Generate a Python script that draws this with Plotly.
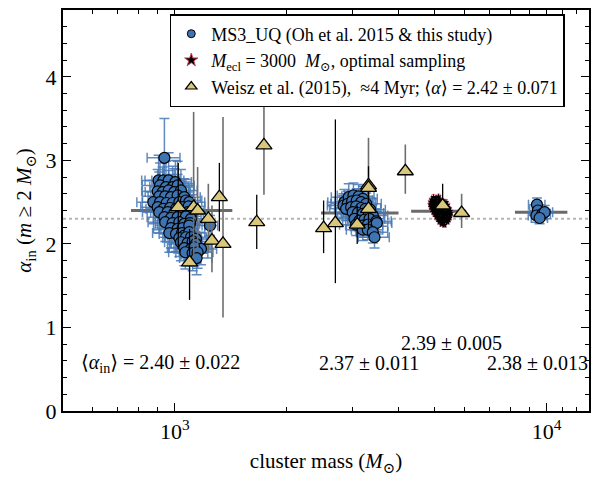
import math
import plotly.graph_objects as go

FONT = "Liberation Serif, DejaVu Serif, serif"

# ---------------- MS3_UQ (Oh et al. 2015 & this study) ----------------
c1_mass = [937,
           904, 931, 962, 1003,
           912, 946, 986, 1017,
           899, 927, 962, 996, 1038,
           908, 942, 976, 1017, 1060,
           875, 912, 950, 986, 1028, 1071, 1093,
           899, 931, 970, 1007, 1049, 1089,
           908, 956, 996, 1038, 1082, 1116,
           937, 976, 1017, 1071, 1105,
           942, 986, 1028, 1060, 1098,
           976, 1017, 1049, 1093,
           966, 1007, 1045, 1060, 1093,
           1028, 1071, 1105, 1139,
           1038, 1082, 1116, 1139, 1175,
           1060, 1105, 1128,
           1067, 1116, 1151,
           1144,
           1243]
c1_alpha = [3.03,
            2.76, 2.76, 2.76, 2.74,
            2.70, 2.68, 2.68, 2.70,
            2.63, 2.62, 2.64, 2.62, 2.64,
            2.57, 2.57, 2.56, 2.58, 2.56,
            2.50, 2.50, 2.49, 2.49, 2.50, 2.52, 2.50,
            2.44, 2.42, 2.43, 2.42, 2.44, 2.45,
            2.38, 2.38, 2.37, 2.38, 2.38, 2.38,
            2.32, 2.31, 2.32, 2.33, 2.30,
            2.26, 2.25, 2.26, 2.24, 2.25,
            2.19, 2.18, 2.19, 2.22,
            2.13, 2.12, 2.13, 2.10, 2.14,
            2.07, 2.08, 2.08, 2.06,
            2.02, 2.01, 2.03, 2.00, 1.94,
            1.95, 1.94, 1.96,
            1.90, 1.89, 1.90,
            1.83,
            2.22]
c1_err_alpha = [0.47,
                0.30, 0.28, 0.33, 0.26,
                0.27, 0.31, 0.25, 0.29,
                0.26, 0.30, 0.24, 0.28, 0.25,
                0.29, 0.23, 0.27, 0.25, 0.22,
                0.26, 0.28, 0.24, 0.27, 0.23, 0.25, 0.22,
                0.27, 0.24, 0.26, 0.22, 0.25, 0.23,
                0.25, 0.23, 0.26, 0.22, 0.24, 0.21,
                0.24, 0.22, 0.25, 0.21, 0.23,
                0.23, 0.25, 0.21, 0.24, 0.22,
                0.24, 0.22, 0.20, 0.23,
                0.23, 0.21, 0.24, 0.20, 0.22,
                0.22, 0.20, 0.23, 0.21,
                0.22, 0.20, 0.21, 0.23, 0.19,
                0.21, 0.20, 0.22,
                0.20, 0.21, 0.19,
                0.20,
                0.12]
c1_err_mass = [95,
               90, 100, 95, 105,
               95, 90, 100, 110,
               85, 95, 100, 105, 110,
               90, 95, 100, 105, 110,
               85, 95, 95, 100, 105, 110, 110,
               90, 95, 100, 100, 105, 115,
               90, 95, 100, 105, 110, 115,
               95, 100, 100, 105, 110,
               95, 100, 105, 105, 110,
               100, 100, 105, 110,
               95, 100, 105, 105, 110,
               100, 105, 110, 115,
               100, 105, 110, 115, 120,
               105, 110, 115,
               105, 110, 115,
               115,
               60]

c2_mass = [2858, 2935, 3022, 3123, 3202,
           2841, 2917, 2997, 3085, 3170, 3270,
           2888, 2979, 3073, 3170, 3256, 3352,
           3009, 3104, 3202, 3323, 3407,
           3041, 3137, 3236, 3338, 3480,
           3073, 3190, 3303, 3407, 3493,
           3202, 3303, 3407,
           3443]
c2_alpha = [2.50, 2.56, 2.58, 2.57, 2.54,
            2.46, 2.48, 2.51, 2.52, 2.50, 2.48,
            2.42, 2.44, 2.45, 2.43, 2.42, 2.41,
            2.38, 2.37, 2.36, 2.37, 2.34,
            2.30, 2.28, 2.29, 2.30, 2.27,
            2.23, 2.22, 2.23, 2.21, 2.25,
            2.17, 2.17, 2.14,
            2.08]
c2_err_alpha = [0.15, 0.16, 0.15, 0.14, 0.15,
                0.14, 0.15, 0.13, 0.14, 0.15, 0.13,
                0.14, 0.13, 0.15, 0.14, 0.13, 0.14,
                0.13, 0.14, 0.13, 0.14, 0.13,
                0.14, 0.13, 0.14, 0.13, 0.12,
                0.13, 0.14, 0.13, 0.12, 0.13,
                0.13, 0.12, 0.13,
                0.13]
c2_err_mass = [280, 300, 290, 310, 300,
               270, 290, 300, 310, 300, 320,
               280, 290, 300, 310, 320, 330,
               290, 300, 310, 320, 330,
               300, 310, 320, 330, 340,
               300, 310, 320, 330, 340,
               310, 320, 330,
               330]

c4_mass = [9417, 9476, 9383, 9737, 9877, 9573]
c4_alpha = [2.47, 2.40, 2.34, 2.36, 2.38, 2.31]
c4_err_alpha = [0.08, 0.07, 0.08, 0.07, 0.08, 0.07]
c4_err_mass = [480, 470, 460, 490, 500, 480]

# ---------------- M_ecl = 3000, optimal sampling ----------------
os_mass = [4960, 5040, 5120,
           4910, 4990, 5080, 5170, 5240,
           4880, 4950, 5030, 5120, 5200, 5290, 5360,
           4870, 4940, 5010, 5090, 5170, 5250, 5330, 5410,
           4890, 4970, 5050, 5130, 5210, 5300, 5390, 5460,
           4920, 5000, 5080, 5160, 5250, 5340, 5430, 5500,
           4960, 5040, 5120, 5210, 5290, 5380, 5470, 5520,
           5000, 5080, 5170, 5260, 5350, 5440, 5500,
           5050, 5140, 5230, 5320, 5410, 5480,
           5100, 5190, 5280, 5370, 5450,
           5150, 5240, 5330, 5410,
           5220, 5310]
os_alpha = [2.562, 2.551, 2.566,
            2.532, 2.524, 2.538, 2.527, 2.519,
            2.503, 2.494, 2.508, 2.497, 2.512, 2.489, 2.501,
            2.472, 2.466, 2.478, 2.463, 2.474, 2.481, 2.459, 2.468,
            2.441, 2.436, 2.449, 2.431, 2.444, 2.452, 2.438, 2.427,
            2.411, 2.404, 2.418, 2.397, 2.409, 2.415, 2.401, 2.393,
            2.381, 2.372, 2.386, 2.377, 2.369, 2.383, 2.374, 2.366,
            2.352, 2.344, 2.357, 2.339, 2.348, 2.355, 2.341,
            2.321, 2.314, 2.327, 2.309, 2.318, 2.312,
            2.292, 2.284, 2.297, 2.279, 2.288,
            2.262, 2.254, 2.268, 2.259,
            2.232, 2.226]
os_err_alpha = [0.03, 0.02, 0.03,
                0.02, 0.03, 0.02, 0.03, 0.02,
                0.03, 0.02, 0.03, 0.02, 0.03, 0.02, 0.03,
                0.02, 0.03, 0.02, 0.03, 0.02, 0.03, 0.02, 0.03,
                0.03, 0.02, 0.03, 0.02, 0.03, 0.02, 0.03, 0.02,
                0.02, 0.03, 0.02, 0.03, 0.02, 0.03, 0.02, 0.03,
                0.03, 0.02, 0.03, 0.02, 0.03, 0.02, 0.03, 0.02,
                0.02, 0.03, 0.02, 0.03, 0.02, 0.03, 0.02,
                0.03, 0.02, 0.03, 0.02, 0.03, 0.02,
                0.02, 0.03, 0.02, 0.03, 0.02,
                0.03, 0.02, 0.03, 0.02,
                0.02, 0.03]
os_err_mass = [60] * len(os_mass)

# ---------------- Weisz et al. (2015) ----------------
w_mass = [1736, 1660, 1317, 1230, 1258, 1347, 1095, 1021, 1123, 1151,
          2512, 2702, 3093, 3317, 3317, 3317, 4167, 5251, 5906]
w_alpha = [3.18, 2.26, 2.56, 2.30, 2.04, 2.00, 1.78, 2.44, 2.44, 2.40,
           2.19, 2.25, 2.23, 2.70, 2.67, 2.42, 2.87, 2.46, 2.37]
w_err_up = [0.47, 0.33, 0.41, 0.42, 0.42, 1.52, 0.40, 0.53, 1.14, 0.52,
            0.33, 1.24, 0.23, 0.57, 0.26, 0.25, 0.32, 0.26, 0.23]
w_err_down = [0.59, 0.32, 0.41, 0.40, 0.38, 0.88, 0.45, 0.50, 0.60, 0.45,
              0.30, 0.72, 0.23, 0.50, 0.22, 0.25, 0.27, 0.24, 0.18]
w_err_dark = [False, True, True, False, False, False, True, True, False, False,
              True, True, True, False, True, True, False, True, False]

# ---------------- group means ----------------
mean_alpha = [2.40, 2.37, 2.39, 2.38]
mean_mass_lo = [762, 2472, 4320, 8218]
mean_mass_hi = [1427, 3995, 6075, 11370]
mean_labels = ["⟨<i>α</i><sub>in</sub>⟩ = 2.40 ± 0.022", "2.37 ± 0.011",
               "2.39 ± 0.005", "2.38 ± 0.013"]
label_mass = [553, 2417, 4018, 6810]
label_alpha = [0.57, 0.57, 0.82, 0.57]

legend_names = ["MS3_UQ (Oh et al. 2015 & this study)",
                "<i>M</i><sub>ecl</sub> = 3000  <i>M</i><sub>⊙</sub>, optimal sampling",
                "Weisz et al. (2015),  ≈4 Myr; ⟨<i>α</i>⟩ = 2.42 ± 0.071"]

canonical_alpha = 2.3
x_range = [500, 13000]
y_range = [0, 4.8]

fig = go.Figure()

# reference dotted line
fig.add_trace(go.Scatter(x=x_range, y=[canonical_alpha] * 2, mode="lines",
                         line=dict(color="#b5b5b5", width=2, dash="dot"),
                         showlegend=False, hoverinfo="skip"))

# mean lines
for lo, hi, a in zip(mean_mass_lo, mean_mass_hi, mean_alpha):
    fig.add_trace(go.Scatter(x=[lo, hi], y=[a, a], mode="lines",
                             line=dict(color="#6a6a6a", width=3),
                             showlegend=False, hoverinfo="skip"))

blue_err = "rgba(70,120,180,0.85)"
blue_fill = "#3f74b2"
yellow_fill = "#dac87a"
ms_mass = c1_mass + c2_mass + c4_mass
ms_alpha = c1_alpha + c2_alpha + c4_alpha
ms_ea = c1_err_alpha + c2_err_alpha + c4_err_alpha
ms_em = c1_err_mass + c2_err_mass + c4_err_mass

fig.add_trace(go.Scatter(
    x=ms_mass, y=ms_alpha, mode="markers", showlegend=False,
    marker=dict(symbol="circle", size=11, color=blue_fill,
                line=dict(color="black", width=1.2)),
    error_y=dict(type="data", array=ms_ea, color=blue_err, thickness=1.5, width=5),
    error_x=dict(type="data", array=ms_em, color=blue_err, thickness=1.5, width=5),
))

fig.add_trace(go.Scatter(
    x=os_mass, y=os_alpha, mode="markers", showlegend=False,
    marker=dict(symbol="star", size=5, color="black", line=dict(width=0)),
    error_y=dict(type="data", array=os_err_alpha, color="rgba(205,80,110,0.75)",
                 thickness=1, width=2),
    error_x=dict(type="data", array=os_err_mass, color="rgba(205,80,110,0.75)",
                 thickness=1, width=2),
))

# Weisz error bars (two shades)
for dark, col in [(False, "#6e6e6e"), (True, "black")]:
    idx = [i for i, d in enumerate(w_err_dark) if d == dark]
    fig.add_trace(go.Scatter(
        x=[w_mass[i] for i in idx], y=[w_alpha[i] for i in idx], mode="markers",
        marker=dict(size=1, color="rgba(0,0,0,0)"),
        error_y=dict(type="data", symmetric=False,
                     array=[w_err_up[i] for i in idx],
                     arrayminus=[w_err_down[i] for i in idx],
                     color=col, thickness=1.6 if not dark else 1.3, width=0),
        showlegend=False, hoverinfo="skip"))

fig.add_trace(go.Scatter(
    x=w_mass, y=w_alpha, mode="markers", showlegend=False,
    marker=dict(symbol="triangle-up", size=14, color=yellow_fill,
                line=dict(color="black", width=1.3)),
))

# legend entries (small symbols, as in the reference)
legend_markers = [dict(symbol="circle", size=8, color=blue_fill,
                       line=dict(color="black", width=1)),
                  dict(symbol="star", size=10, color="black",
                       line=dict(color="#d04060", width=1)),
                  dict(symbol="triangle-up", size=10, color=yellow_fill,
                       line=dict(color="black", width=1.2))]
for nm, mk in zip(legend_names, legend_markers):
    fig.add_trace(go.Scatter(x=[None], y=[None], mode="markers", name=nm, marker=mk))

for txt, mx, my in zip(mean_labels, label_mass, label_alpha):
    fig.add_annotation(x=math.log10(mx), y=my, xref="x", yref="y", text=txt,
                       showarrow=False, xanchor="left", yanchor="middle",
                       font=dict(family=FONT, size=20, color="black"))

axis_common = dict(showline=True, linecolor="black", linewidth=2, mirror="ticks",
                   ticks="inside", tickcolor="black", tickwidth=1.3, ticklen=8,
                   showgrid=False, zeroline=False, automargin=False,
                   tickfont=dict(family=FONT, size=22, color="black"))

fig.update_xaxes(type="log", range=[math.log10(x_range[0]), math.log10(x_range[1])],
                 tickvals=[1000, 10000], ticktext=["10<sup>3</sup>", "10<sup>4</sup>"],
                 minor=dict(ticks="inside", ticklen=4, tickcolor="black", tickwidth=1,
                            tickvals=[600, 700, 800, 900, 2000, 3000, 4000, 5000,
                                      6000, 7000, 8000, 9000, 11000, 12000]),
                 title=dict(text="cluster mass (<i>M</i><sub>⊙</sub>)",
                            font=dict(family=FONT, size=21, color="black"), standoff=10),
                 **axis_common)
fig.update_yaxes(range=y_range, dtick=1, tick0=0,
                 minor=dict(ticks="inside", ticklen=4, tickcolor="black", tickwidth=1,
                            dtick=0.2),
                 title=dict(text="<i>α</i><sub>in</sub> (<i>m</i> ≥ 2 <i>M</i><sub>⊙</sub>)",
                            font=dict(family=FONT, size=21, color="black"), standoff=8),
                 **axis_common)

fig.update_layout(
    width=592, height=477,
    margin=dict(l=63, r=3, t=10, b=66),
    plot_bgcolor="white", paper_bgcolor="white",
    font=dict(family=FONT, color="black"),
    legend=dict(x=0.203, y=0.99, xanchor="left", yanchor="top",
                bgcolor="white", bordercolor="black", borderwidth=1.5,
                font=dict(family=FONT, size=18, color="black"),
                itemsizing="trace", tracegroupgap=0, itemwidth=30),
)

fig.write_html("out.html", config={"displayModeBar": False},
               post_script="document.body.style.margin='0';document.body.style.padding='0';")
